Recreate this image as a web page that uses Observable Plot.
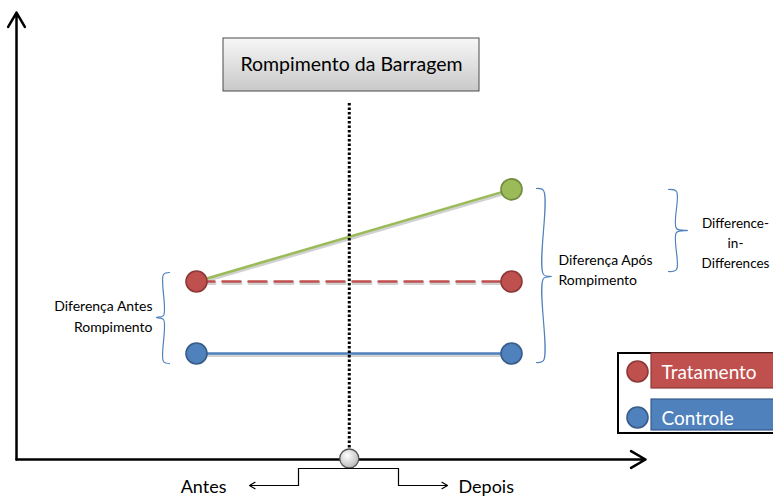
<!DOCTYPE html>
<html>
<head>
<meta charset="utf-8">
<script src="https://cdn.jsdelivr.net/npm/d3@7"></script>
<script src="https://cdn.jsdelivr.net/npm/@observablehq/plot@0.6"></script>
<style>
  body { margin: 0; background: #fff; }
  #chart svg { display: block; }
</style>
</head>
<body>
<div id="chart"></div>
<script>
// Períodos e resultados do esquema de diferenças em diferenças
const periodos = ["Antes", "Depois"];
const tempo = [0, 1];
const controle = [1, 1];
const tratamentoSemRompimento = [2, 2];
const tratamentoObservado = [2, 3.28];
const momentoRompimento = 0.485;

// Legenda
const grupos = ["Tratamento", "Controle"];
const coresGrupos = ["#C0504D", "#4F81BD"];
const bordasGrupos = ["#8C3A38", "#385D8A"];
const corObservado = "#9BBB59";
const bordaObservado = "#71893F";

// Textos
const titulo = "Rompimento da Barragem";
const rotuloAntes = "Diferença Antes\nRompimento";
const rotuloDepois = "Diferença Após\nRompimento";
const rotuloDiD = "Difference-\nin-\nDifferences";

const W = 773, H = 496;
const FONT = "Lato, 'Open Sans', sans-serif";
// layout helpers: one period spans 315 px, one outcome unit 72 px
const X = p => (p - 196) / 315;
const Y = p => 1 + (353 - p) / 72;

const serie = (nome, valores) => tempo.map((t, i) => ({serie: nome, periodo: periodos[i], t, v: valores[i]}));
const linhaControle = serie("Controle", controle);
const linhaContrafactual = serie("Tratamento", tratamentoSemRompimento);
const linhaObservada = serie("Observado", tratamentoObservado);

const pontos = [
  ...linhaControle.map(d => ({...d, cor: coresGrupos[1], borda: bordasGrupos[1]})),
  ...linhaContrafactual.map(d => ({...d, cor: coresGrupos[0], borda: bordasGrupos[0]})),
  {...linhaObservada[1], cor: corObservado, borda: bordaObservado}
];

// brace shapes (opening side, tip side)
function chave(xLinha, xPonta, xTip, yTopo, yBase, yMeio) {
  return [
    {x: X(xPonta), y: Y(yTopo)}, {x: X(xLinha), y: Y(yTopo + 2)},
    {x: X(xLinha), y: Y(yMeio - 2)}, {x: X(xTip), y: Y(yMeio)},
    {x: X(xLinha), y: Y(yMeio + 2)}, {x: X(xLinha), y: Y(yBase - 2)},
    {x: X(xPonta), y: Y(yBase)}
  ];
}
const chaveAntes = chave(163, 169, 156, 272, 363, 317);
const chaveDepois = chave(543, 536, 551, 188, 362, 276);
const chaveDiD = chave(676, 668, 687, 189, 271, 230);

const degrau = [
  {x: X(298), y: Y(485)}, {x: X(298), y: Y(468)},
  {x: X(398), y: Y(468)}, {x: X(398), y: Y(485)}
];

const legenda = grupos.map((g, i) => ({
  grupo: g, cor: coresGrupos[i], borda: bordasGrupos[i],
  y1: Y([353, 399][i]), y2: Y([388, 430][i]),
  yc: Y([371, 417][i]), yb: Y([378, 424][i])
}));

const sombra = {stroke: "#000", strokeOpacity: 0.18, strokeWidth: 3, dx: 0.5, dy: 2};

const plot = Plot.plot({
  width: W, height: H,
  margin: 0,
  x: {domain: [X(0), X(W)], axis: null},
  y: {domain: [Y(H), Y(0)], axis: null},
  style: {fontFamily: FONT, background: "white", overflow: "visible"},
  marks: [
    // eixos
    Plot.arrow([0], {x1: X(16), y1: Y(459), x2: X(16), y2: Y(12), stroke: "black", strokeWidth: 2.5, headLength: 10}),
    Plot.arrow([0], {x1: X(16), y1: Y(459), x2: X(645), y2: Y(459), stroke: "black", strokeWidth: 2.5, headLength: 10}),

    // caixa do título
    Plot.rect([0], {x1: X(223), x2: X(479), y1: Y(91), y2: Y(38), fill: "url(#gradTitulo)", stroke: "#4a4a4a", strokeWidth: 1, ariaLabel: "caixa-titulo"}),
    Plot.text([titulo], {x: X(351), y: Y(70), text: d => d, fontSize: 19.5, fill: "black", lineAnchor: "bottom"}),

    // linhas de resultado (com sombra suave)
    Plot.line(linhaControle, {x: "t", y: "v", ...sombra}),
    Plot.line(linhaContrafactual, {x: "t", y: "v", ...sombra, strokeDasharray: "18,8"}),
    Plot.line(linhaObservada, {x: "t", y: "v", ...sombra}),
    Plot.line(linhaControle, {x: "t", y: "v", stroke: coresGrupos[1], strokeWidth: 2.5}),
    Plot.line(linhaContrafactual, {x: "t", y: "v", stroke: coresGrupos[0], strokeWidth: 2.5, strokeDasharray: "18,8"}),
    Plot.line(linhaObservada, {x: "t", y: "v", stroke: corObservado, strokeWidth: 2.5}),

    // momento do rompimento
    Plot.ruleX([momentoRompimento], {y1: Y(103), y2: Y(455), stroke: "black", strokeWidth: 3, strokeDasharray: "2.5,2"}),
    Plot.dot([momentoRompimento], {x: d => d, y: Y(458), r: 9.5, fill: "url(#gradMarco)", stroke: "#555", strokeWidth: 1.3}),

    // pontos
    Plot.dot(pontos, {x: "t", y: "v", r: 10.5, fill: d => d.cor, stroke: d => d.borda, strokeWidth: 1.6}),

    // chaves
    Plot.line(chaveAntes, {x: "x", y: "y", stroke: "#4F81BD", strokeWidth: 1.2, curve: "catmull-rom"}),
    Plot.line(chaveDepois, {x: "x", y: "y", stroke: "#4F81BD", strokeWidth: 1.2, curve: "catmull-rom"}),
    Plot.line(chaveDiD, {x: "x", y: "y", stroke: "#4F81BD", strokeWidth: 1.2, curve: "catmull-rom"}),
    Plot.text([rotuloAntes], {x: X(152), y: Y(331), text: d => d, textAnchor: "end", lineAnchor: "bottom", fontSize: 14, lineHeight: 1.43, fill: "black"}),
    Plot.text([rotuloDepois], {x: X(558), y: Y(284), text: d => d, textAnchor: "start", lineAnchor: "bottom", fontSize: 14, lineHeight: 1.36, fill: "black"}),
    Plot.text([rotuloDiD], {x: X(735), y: Y(267), text: d => d, textAnchor: "middle", lineAnchor: "bottom", fontSize: 13.5, lineHeight: 1.48, fill: "black"}),

    // períodos
    Plot.line(degrau, {x: "x", y: "y", stroke: "black", strokeWidth: 1.2}),
    Plot.arrow([0], {x1: X(298), y1: Y(485), x2: X(249), y2: Y(485), stroke: "black", strokeWidth: 1.2, headLength: 8}),
    Plot.arrow([0], {x1: X(398), y1: Y(485), x2: X(447), y2: Y(485), stroke: "black", strokeWidth: 1.2, headLength: 8}),
    Plot.text([periodos[0]], {x: X(226), y: Y(492), text: d => d, textAnchor: "end", lineAnchor: "bottom", fontSize: 18, fill: "black"}),
    Plot.text([periodos[1]], {x: X(458), y: Y(492), text: d => d, textAnchor: "start", lineAnchor: "bottom", fontSize: 18, fill: "black"}),

    // legenda
    Plot.rect([0], {x1: X(618), x2: X(790), y1: Y(433), y2: Y(353), fill: "white", stroke: "black", strokeWidth: 2}),
    Plot.rect(legenda, {x1: X(651), x2: X(790), y1: "y1", y2: "y2", fill: d => d.cor, stroke: d => d.borda, strokeWidth: 1.2}),
    Plot.dot(legenda, {x: X(637), y: "yc", r: 10.5, fill: d => d.cor, stroke: d => d.borda, strokeWidth: 1.6}),
    Plot.text(legenda, {x: X(661), y: "yb", text: "grupo", textAnchor: "start", lineAnchor: "bottom", fontSize: 19, fill: "white"})
  ]
});

// gradientes e sombra da caixa do título
const svg = d3.select(plot);
const defs = svg.insert("defs", ":first-child");
const g1 = defs.append("linearGradient").attr("id", "gradTitulo").attr("x1", 0).attr("y1", 0).attr("x2", 0).attr("y2", 1);
g1.append("stop").attr("offset", "0%").attr("stop-color", "#f7f7f7");
g1.append("stop").attr("offset", "100%").attr("stop-color", "#c9c9c9");
const g2 = defs.append("radialGradient").attr("id", "gradMarco").attr("cx", "40%").attr("cy", "35%").attr("r", "70%");
g2.append("stop").attr("offset", "0%").attr("stop-color", "#ffffff");
g2.append("stop").attr("offset", "100%").attr("stop-color", "#b5b5b5");
const f1 = defs.append("filter").attr("id", "sombra").attr("x", "-10%").attr("y", "-10%").attr("width", "130%").attr("height", "140%");
f1.append("feDropShadow").attr("dx", 1).attr("dy", 2).attr("stdDeviation", 1.5).attr("flood-color", "#000").attr("flood-opacity", 0.35);
svg.selectAll('g[aria-label="caixa-titulo"]').attr("filter", "url(#sombra)");

document.getElementById("chart").append(plot);
</script>
</body>
</html>
